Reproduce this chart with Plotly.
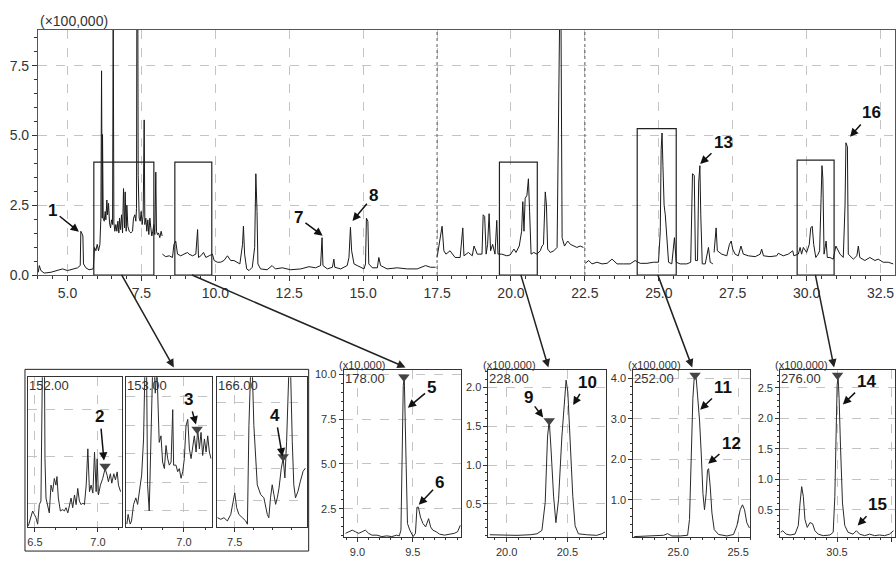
import plotly.graph_objects as go

W, H = 896, 562
FONT = "Liberation Sans, Arial, sans-serif"
INK = "#1a1a1a"
TXT = "#333333"
GRID = "#c4c4c4"

# ---------------- main total-ion chromatogram (time in min, intensity x100,000) -------------
seg1_t = [4.01,4.045,4.1,4.21,4.44,4.67,4.83,5.0,5.17,5.34,5.43,5.45,5.49,5.52,5.54,5.62,5.73,5.82,
          5.869,5.914,5.959,6.004,6.05,6.095,6.128,6.151,6.173,6.184,6.207,6.241,6.275,6.297,6.331,6.354,6.387,6.421,
          6.455,6.489,6.523,6.545,6.568,6.601,6.635,6.669,6.703,6.736,6.759,6.793,6.827,6.861,6.894,6.928,6.951,6.984,
          7.007,7.041,7.086,7.142,7.199,7.232,7.277,7.311,7.334,7.345,7.378,7.39,7.424,7.458,7.491,7.525,7.559,7.593,
          7.615,7.649,7.682,7.716,7.75,7.784,7.818,7.851,7.885,7.919,7.953,7.986,8.009,8.043,8.076,8.122,8.167,8.201]
seg1_v = [0.1,0.34,0.16,0.07,0.1,0.16,0.22,0.16,0.22,0.26,0.34,1.57,1.48,1.4,0.4,0.26,0.19,0.2,
          0.22,0.99,0.87,1.1,0.87,1.1,2.04,7.32,2.04,5.04,2.04,1.93,2.28,1.98,2.69,2.16,2.57,1.87,
          1.69,1.98,1.81,9.5,1.87,1.57,1.81,1.57,1.93,1.51,2.04,1.63,2.16,1.51,3.1,1.69,2.98,1.57,
          2.51,1.75,1.57,1.51,1.57,2.04,2.16,1.93,2.39,9.5,9.5,3.57,2.04,1.93,2.28,1.81,2.16,5.56,
          1.81,2.04,1.57,1.98,1.45,2.04,1.69,1.4,1.57,1.81,1.45,3.69,1.57,1.45,1.51,1.34,1.57,1.4]
seg2_t = [8.21,8.32,8.44,8.55,8.6,8.66,8.72,8.83,8.94,9.06,9.11,9.23,9.34,9.4,9.43,9.51,9.6,9.68,9.79,9.9,
          9.96,10.07,10.18,10.29,10.41,10.52,10.63,10.75,10.83,10.92,10.95,10.99,11.06,11.14,11.25,11.33,11.37,11.41,11.44,11.53,
          11.75,11.92,12.03,12.26,12.55,12.89,13.17,13.39,13.56,13.61,13.64,13.79,13.96,14.01,14.04,14.24,14.46,14.52,14.57,14.61,
          14.69,14.8,15.03,15.08,15.11,15.16,15.19,15.31,15.48,15.53,15.59,15.81,16.15,16.49,16.83,17.11,17.28,17.45]
seg2_v = [0.75,0.66,0.69,0.63,1.1,1.22,0.75,0.69,0.75,0.81,0.75,0.69,0.75,1.63,0.63,0.69,0.81,0.63,0.69,0.75,
          0.52,0.46,0.46,0.52,0.69,0.52,0.52,0.46,0.4,1.1,1.75,0.75,0.22,0.16,0.28,0.99,3.63,2.28,0.4,0.22,
          0.19,0.34,0.22,0.26,0.19,0.22,0.3,0.26,0.34,1.34,0.34,0.22,0.28,0.57,0.28,0.22,0.34,0.63,1.71,0.87,
          0.4,0.34,0.22,0.4,2.04,1.92,0.4,0.26,0.26,0.63,0.34,0.22,0.26,0.22,0.22,0.34,0.28,0.28]
seg3_t = [17.5,17.61,17.67,17.73,17.8,17.94,18.11,18.28,18.37,18.41,18.56,18.69,18.75,18.86,19.02,19.06,19.11,19.16,19.21,19.26,
          19.31,19.38,19.46,19.52,19.56,19.69,19.86,19.97,20.1,20.17,20.28,20.36,20.4,20.44,20.48,20.54,20.59,20.63,20.68,20.77,
          20.88,20.99,21.05,21.1,21.16,21.2,21.24,21.33,21.45,21.56,21.62,21.65,21.69,21.73,21.81,21.92,22.01,22.12,22.23,22.34,22.45]
seg3_v = [0.63,1.34,1.75,0.87,0.75,0.87,0.63,0.63,1.69,0.69,0.81,0.69,1.04,0.75,0.75,2.16,2.1,0.75,1.1,2.2,
          0.87,1.1,0.75,1.96,0.75,0.75,0.69,0.72,0.93,0.81,1.04,1.57,2.63,1.57,2.75,2.86,3.45,2.28,0.75,0.81,
          0.75,0.87,1.04,1.1,2.98,2.51,0.93,0.81,0.87,0.99,5.56,9.5,9.5,1.34,1.04,1.22,1.1,1.04,0.99,1.04,0.99]
seg4_t = [22.51,22.63,22.74,22.91,23.08,23.25,23.42,23.59,23.81,24.03,24.2,24.37,24.6,24.82,24.99,25.05,25.08,25.11,25.14,25.18,
          25.22,25.27,25.33,25.44,25.5,25.53,25.59,25.72,25.95,26.08,26.14,26.2,26.24,26.31,26.35,26.39,26.42,26.47,26.57,26.68,26.74,26.83]
seg4_v = [0.42,0.52,0.4,0.46,0.4,0.42,0.57,0.4,0.4,0.4,0.52,0.42,0.42,0.46,0.46,1.57,4.51,5.09,3.92,2.51,
          2.16,1.34,0.46,0.4,1.22,1.34,0.46,0.4,0.4,0.46,3.63,3.57,0.52,0.52,3.33,3.92,2.16,0.4,0.4,0.99,0.46,0.4]
seg5_t = [26.87,26.94,26.98,27.13,27.3,27.39,27.45,27.5,27.58,27.69,27.78,27.86,28.03,28.26,28.43,28.48,28.54,28.76,28.99,29.04,
          29.21,29.38,29.53,29.57,29.72,29.78,29.83,29.89,30.0,30.09,30.14,30.19,30.24,30.31,30.39,30.44,30.49,30.52,30.55,30.59,
          30.66,30.7,30.79,30.9,30.99,31.07,31.13,31.24,31.3,31.33,31.38,31.41,31.58,31.7,31.75,31.8,31.97,32.14,32.31,32.42,
          32.59,32.76,32.93]
seg5_v = [0.81,1.69,0.87,0.75,0.69,1.1,1.22,0.93,0.75,0.69,1.04,0.75,0.69,0.66,0.75,0.93,0.69,0.66,0.69,0.78,
          0.69,0.75,0.87,0.69,0.75,0.99,0.75,0.99,0.81,1.1,1.69,1.75,1.1,0.63,0.75,0.87,2.75,3.92,3.45,0.75,
          1.22,0.63,0.63,0.57,1.04,0.87,0.75,0.63,2.51,4.74,4.6,0.75,0.57,0.69,1.04,0.63,0.52,0.63,0.52,0.57,
          0.46,0.46,0.4]

# ---------------- extracted-ion insets -------------
ion152_t = [6.448,6.482,6.495,6.508,6.522,6.535,6.548,6.562,6.575,6.58,6.588,6.601,6.614,6.628,6.641,6.654,6.667,6.675,6.686,6.702,
            6.721,6.734,6.747,6.761,6.774,6.787,6.8,6.814,6.827,6.84,6.853,6.867,6.88,6.893,6.907,6.92,6.933,6.946,6.96,6.973,
            6.986,6.994,7.004,7.02,7.038,7.057,7.073,7.083,7.099,7.11,7.126,7.139,7.153,7.163,7.18]
ion152_v = [0.535,0.85,0.78,0.71,0.57,0.985,1.06,4.5,4.5,1.96,1.125,0.92,0.81,1.4,1.26,1.54,1.4,1.58,1.125,0.85,
            0.88,0.85,0.92,0.81,0.985,1.125,0.92,1.19,0.985,1.33,1.06,0.985,1.02,0.985,1.4,2.17,1.26,1.4,1.23,2.1,
            1.26,1.96,1.19,1.4,1.54,1.75,1.61,1.47,1.64,1.44,1.64,1.51,1.68,1.4,1.26]
ion153_t = [6.548,6.558,6.574,6.585,6.601,6.619,6.633,6.646,6.665,6.68,6.691,6.704,6.712,6.725,6.738,6.752,6.765,6.773,6.786,6.796,
            6.804,6.818,6.831,6.845,6.858,6.871,6.884,6.898,6.911,6.918,6.937,6.95,6.963,6.977,6.99,7.003,7.016,7.03,7.043,7.056,
            7.069,7.082,7.096,7.109,7.122,7.135,7.148,7.162,7.175,7.188,7.201,7.214]
ion153_v = [0.53,0.87,0.53,0.64,1.22,1.45,1.22,1.68,2.25,3.52,6.0,6.0,1.91,0.99,3.98,6.0,6.0,5.13,6.0,4.55,
            3.4,3.63,2.71,2.48,3.29,2.83,2.6,2.71,4.55,2.6,2.6,2.37,2.48,2.14,2.37,2.83,3.98,4.21,3.17,2.83,
            3.29,3.63,3.06,3.86,3.17,3.75,2.94,3.52,3.06,3.63,3.06,2.83]
ion166_t = [7.409,7.426,7.443,7.461,7.479,7.493,7.5,7.51,7.522,7.54,7.558,7.567,7.575,7.584,7.593,7.601,7.619,7.637,7.654,7.672,
            7.68,7.689,7.698,7.707,7.716,7.725,7.734,7.746,7.756,7.765,7.774,7.786,7.795,7.804,7.812,7.821,7.834,7.847,7.861,7.873]
ion166_v = [0.48,0.43,0.48,0.38,0.58,1.09,1.24,0.79,0.58,0.48,0.38,0.28,3.31,5.0,5.0,3.31,1.49,1.19,1.09,0.58,
            0.48,1.09,1.49,1.19,0.89,1.09,1.39,2.0,2.3,1.7,2.81,5.0,5.0,2.81,1.49,1.09,1.29,1.6,1.9,2.0]
ion178_t = [8.893,8.922,8.953,8.982,9.012,9.042,9.071,9.101,9.131,9.176,9.22,9.265,9.31,9.354,9.378,9.393,9.402,9.414,9.423,9.431,
            9.44,9.452,9.473,9.503,9.524,9.538,9.551,9.569,9.592,9.616,9.643,9.661,9.681,9.711,9.741,9.786,9.83,9.875,9.905,9.929]
ion178_v = [1.13,1.22,1.31,1.22,1.13,1.22,1.31,1.13,1.03,1.03,0.95,0.99,0.95,1.03,0.99,1.31,4.97,9.37,9.82,8.09,
            4.97,1.68,1.31,0.95,1.13,2.59,2.59,2.04,1.68,1.49,1.95,1.49,1.31,1.22,1.09,1.03,1.09,1.13,1.22,1.58]
ion228_t = [19.861,19.976,20.085,20.194,20.249,20.29,20.317,20.336,20.35,20.364,20.386,20.405,20.427,20.454,20.476,20.489,20.503,
            20.522,20.544,20.563,20.59,20.659,20.741,20.782,20.809]
ion228_v = [0.105,0.097,0.097,0.105,0.117,0.16,0.52,1.36,1.57,1.23,0.6,0.26,0.56,1.36,1.9,2.09,1.94,
            1.31,0.6,0.22,0.117,0.105,0.097,0.117,0.14]
ion252_t = [24.633,24.711,24.794,24.878,24.911,24.947,25.017,25.078,25.094,25.108,25.122,25.133,25.15,25.161,25.178,25.192,25.206,
            25.219,25.233,25.244,25.253,25.267,25.281,25.3,25.336,25.406,25.461,25.489,25.517,25.536,25.553,25.572,25.594]
ion252_v = [0.097,0.113,0.113,0.13,0.17,0.113,0.113,0.13,0.52,2.13,3.5,3.99,3.99,3.58,2.94,2.13,1.16,
            0.76,1.16,1.73,1.77,1.32,0.68,0.27,0.15,0.113,0.15,0.36,0.76,0.88,0.76,0.44,0.31]
ion276_t = [29.985,30.004,30.035,30.071,30.116,30.146,30.162,30.177,30.192,30.207,30.228,30.253,30.277,30.298,30.328,30.374,30.435,
            30.465,30.48,30.489,30.501,30.51,30.519,30.532,30.55,30.571,30.601,30.646,30.677,30.707,30.753,30.798,30.844,30.889,30.935,30.98,31.016]
ion276_v = [0.13,0.156,0.10,0.086,0.10,0.24,0.61,0.88,0.72,0.34,0.21,0.29,0.27,0.156,0.10,0.075,0.086,
            0.13,0.72,1.8,2.55,2.68,2.33,1.53,0.61,0.24,0.13,0.10,0.156,0.10,0.075,0.10,0.075,0.086,0.075,0.10,0.156]

# peak-top markers (axis id, time, intensity)
marker_axis = ['2', '3', '4', '5', '6', '7', '8']
marker_t = [7.057, 7.104, 7.756, 9.42, 20.35, 25.14, 30.505]
marker_v = [1.80, 3.86, 2.35, 9.85, 1.57, 4.07, 2.71]

# numbered peak labels: text, axis id, time, intensity, label offset (px)
label_text = ['1', '7', '8', '13', '16', '2', '3', '4', '5', '6', '9', '10', '11', '12', '14', '15']
label_axis = ['', '', '', '', '', '2', '3', '4', '5', '5', '6', '6', '7', '7', '8', '8']
label_t = [5.385, 13.63, 14.64, 26.4, 31.47, 7.048, 7.095, 7.752, 9.455, 9.554, 20.3, 20.547, 25.183, 25.25, 30.553, 30.689]
label_v = [1.55, 1.41, 1.94, 3.98, 4.96, 1.92, 4.03, 2.36, 8.13, 2.72, 1.61, 1.77, 3.22, 1.89, 2.23, 0.24]
label_dx = [-26, -24, 21, 23, 21, -4, -7, -7, 24, 21, -15, 14, 23, 23, 24, 20]
label_dy = [-21, -18, -25, -22, -24, -44, -25, -41, -20, -22, -20, -23, -22, -20, -23, -21]

# zoomed windows on the main chromatogram (t0, t1, top)
zoom_t0 = [5.89, 8.63, 19.61, 24.27, 29.68]
zoom_t1 = [7.92, 9.88, 20.89, 25.59, 30.93]
zoom_top = [4.05, 4.05, 4.05, 5.25, 4.12]

# ion labels / scale labels
main_scale_label = '(×100,000)'
ion_axis = ['2', '3', '4', '5', '6', '7', '8']
ion_label = ['152.00', '153.00', '166.00', '178.00', '228.00', '252.00', '276.00']
scale_axis = ['5', '6', '7', '8']
scale_label = ['(x10,000)', '(x100,000)', '(x100,000)', '(x100,000)']


def px(x):
    return x / W


def py(y):
    return 1 - y / H


fig = go.Figure()


def add_line(t, v, k, color=INK, width=1.0):
    fig.add_trace(go.Scatter(x=t, y=v, mode='lines', line=dict(color=color, width=width),
                             xaxis='x' + k, yaxis='y' + k, hoverinfo='skip'))


for t, v in [(seg1_t, seg1_v), (seg2_t, seg2_v), (seg3_t, seg3_v), (seg4_t, seg4_v), (seg5_t, seg5_v)]:
    add_line(t, v, '', INK, 1.0)

for k, (t, v) in zip(['2', '3', '4', '5', '6', '7', '8'],
                     [(ion152_t, ion152_v), (ion153_t, ion153_v), (ion166_t, ion166_v), (ion178_t, ion178_v),
                      (ion228_t, ion228_v), (ion252_t, ion252_v), (ion276_t, ion276_v)]):
    add_line(t, v, k, "#2a2a2a", 1.0)

for k, t, v in zip(marker_axis, marker_t, marker_v):
    fig.add_trace(go.Scatter(x=[t], y=[v], mode='markers', cliponaxis=False,
                             marker=dict(symbol='triangle-down', size=10, color='#444444'),
                             xaxis='x' + k, yaxis='y' + k, hoverinfo='skip'))


def axis(**kw):
    d = dict(showline=True, linecolor='#333333', linewidth=1, mirror=True, ticks='outside', ticklen=4,
             tickwidth=1, tickcolor='#333333', tickfont=dict(family=FONT, size=11, color=TXT),
             showgrid=True, gridcolor=GRID, griddash='dash', gridwidth=1, zeroline=False, fixedrange=True)
    d.update(kw)
    return d


lay = {}
# main axes
lay['xaxis'] = axis(domain=[px(37), px(895)], range=[4.0, 32.99], tick0=0, dtick=2.5, tickformat='.1f',
                    anchor='y', tickfont=dict(family=FONT, size=14, color=TXT), ticklen=5,
                    linecolor='#555555',
                    minor=dict(tick0=0, dtick=0.5, ticks='outside', ticklen=3, tickcolor='#333333', showgrid=False))
lay['yaxis'] = axis(domain=[py(278), py(28)], range=[0.0001, 8.8], tick0=0, dtick=2.5, tickformat='.1f',
                    anchor='x', tickfont=dict(family=FONT, size=14, color=TXT), ticklen=5,
                    linecolor='#555555',
                    minor=dict(tick0=0, dtick=0.5, ticks='outside', ticklen=3, tickcolor='#333333', showgrid=False))

# small ion panels (no y labels)
small = [('2', 27, 121, [6.445, 7.19], [0.5, 3.69], 6.5, 1 / 6),
         ('3', 125, 211, [6.54, 7.22], [0.41, 5.69], 6.5, 1 / 6),
         ('4', 216, 306, [7.405, 7.88], [0.18, 4.79], 7.5, 0.1)]
for k, x0, x1, xr, yr, mt0, mdt in small:
    lay['xaxis' + k] = axis(domain=[px(x0), px(x1)], range=xr, tick0=0, dtick=0.5, tickformat='.1f',
                            anchor='y' + k,
                            minor=dict(tick0=mt0, dtick=mdt, ticks='outside', ticklen=2, tickcolor='#333333',
                                       showgrid=False))
    lay['yaxis' + k] = axis(domain=[py(535), py(382)], range=yr, tick0=0, dtick=1, ticks='',
                            showticklabels=False, anchor='x' + k)

big = [('5', 343, 461, [8.875, 9.94], [0.91, 10.22], 2.5, 0.5, None),
       ('6', 488, 606, [19.85, 20.82], [0.072, 2.216], 0.5, 0.1, None),
       ('7', 633, 750, [24.625, 25.6], [0.08, 4.19], 1.0, 0.2, None),
       ('8', 780, 895, [29.98, 31.03], [0.048, 2.79], 0.5, 0.1, [30.5, 31.0])]
for k, x0, x1, xr, yr, ydt, ymdt, xtv in big:
    xa = axis(domain=[px(x0), px(x1)], range=xr, tick0=0, dtick=0.5, tickformat='.1f', anchor='y' + k,
              minor=dict(tick0=0, dtick=0.1, ticks='outside', ticklen=2, tickcolor='#333333', showgrid=False))
    if xtv:
        xa.update(tickmode='array', tickvals=xtv, ticktext=['%.1f' % v for v in xtv])
        xa['minor'] = dict(tickmode='linear', tick0=0, dtick=0.1, ticks='outside', ticklen=2,
                           tickcolor='#333333', showgrid=False)
    lay['xaxis' + k] = xa
    lay['yaxis' + k] = axis(domain=[py(545), py(375)], range=yr, tick0=0, dtick=ydt, tickformat='.1f',
                            anchor='x' + k,
                            minor=dict(tick0=0, dtick=ymdt, ticks='outside', ticklen=2, tickcolor='#333333',
                                       showgrid=False))

shapes = []
# zoom windows on main chromatogram
for a, b, top in zip(zoom_t0, zoom_t1, zoom_top):
    shapes.append(dict(type='rect', xref='x', yref='y', x0=a, x1=b, y0=0, y1=top,
                       line=dict(color='#222222', width=1.2)))
# segment boundaries
for xb in [17.5, 22.5]:
    shapes.append(dict(type='line', xref='x', yref='y domain', x0=xb, x1=xb, y0=0, y1=1,
                       line=dict(color='#555555', width=1, dash='dot')))
# frame around the three small ion panels
shapes.append(dict(type='rect', xref='paper', yref='paper', x0=px(24), x1=px(308), y0=py(559), y1=py(374),
                   line=dict(color='#222222', width=1)))

ann = []
ann.append(dict(text=main_scale_label, xref='x domain', yref='y domain', x=0.0, y=1.0, xanchor='left',
                yanchor='bottom', showarrow=False, font=dict(family=FONT, size=14, color=TXT), yshift=-1))
for k, s in zip(ion_axis, ion_label):
    ann.append(dict(text=s, xref='x%s domain' % k, yref='y%s domain' % k, x=0.0, y=1.0, xanchor='left',
                    yanchor='top', showarrow=False, font=dict(family=FONT, size=13, color=TXT), xshift=-1, yshift=1))
for k, s in zip(scale_axis, scale_label):
    ann.append(dict(text=s, xref='x%s domain' % k, yref='y%s domain' % k, x=0.0, y=1.0, xanchor='left',
                    yanchor='bottom', showarrow=False, font=dict(family=FONT, size=11, color=TXT), xshift=-7,
                    yshift=-3))
for s, k, t, v, dx, dy in zip(label_text, label_axis, label_t, label_v, label_dx, label_dy):
    ann.append(dict(text='<b>%s</b>' % s, xref='x' + k, yref='y' + k, x=t, y=v, ax=dx, ay=dy,
                    showarrow=True, arrowhead=2, arrowsize=1.1, arrowwidth=1.5, arrowcolor='#111111',
                    startstandoff=1, font=dict(family=FONT, size=17, color='#111111')))
# connector arrows from zoom windows to insets (pixel positions of tail / head)
conn_tail = [(120, 278), (190, 279), (520, 278), (657, 278), (815, 278)]
conn_head = [(173, 372), (405, 372), (548, 372), (692, 372), (834, 372)]
for (tx, ty), (hx, hy) in zip(conn_tail, conn_head):
    ann.append(dict(text='', xref='paper', yref='paper', axref='pixel', ayref='pixel',
                    x=px(hx), y=py(hy), ax=tx - hx, ay=ty - hy, showarrow=True, arrowhead=2, arrowsize=1.1,
                    arrowwidth=1.5, arrowcolor='#222222'))

fig.update_layout(width=W, height=H, margin=dict(l=0, r=0, t=0, b=0), paper_bgcolor='white',
                  plot_bgcolor='white', showlegend=False, shapes=shapes, annotations=ann,
                  font=dict(family=FONT, color=TXT), **lay)

fig.write_html("out.html")
